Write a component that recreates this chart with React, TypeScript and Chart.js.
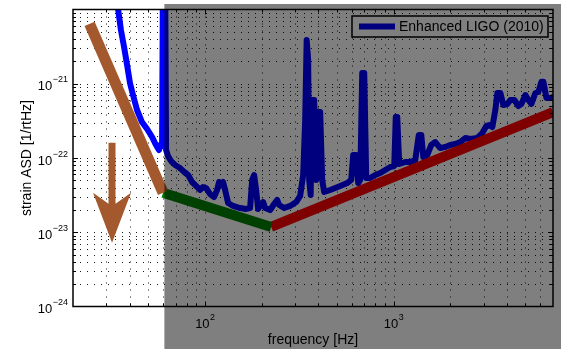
import React, { useEffect, useRef } from "react";
import { Chart, registerables } from "chart.js";

Chart.register(...registerables);

// ---- data ----
const freqHz = [
  30, 34.6, 35.9, 37.3, 38.7, 40.1, 41.6, 43.7, 46.4, 49.4, 52.5, 54.4, 55.8, 57.1, 58.6, 59.3, 60.0, 61.5,
  62.3, 63.8, 66.2, 69.5, 73.9, 77.6, 81.5, 85.5, 89.8, 94.3, 97.8, 101.5, 106.6, 111.9, 116.1, 118.9, 121.9,
  124.9, 128.0, 132.8, 141.1, 153.7, 165.4, 173.7, 178.0, 182.4, 186.9, 191.5, 198.7, 203.6, 208.6, 221.7,
  232.8, 241.5, 247.5, 263.1, 283.1, 304.7, 319.9, 331.9, 340.1, 346.3, 352.8, 357.1, 363.7, 370.4, 379.6,
  388.9, 398.6, 408.4, 418.5, 428.9, 461.5, 521.5, 568.0, 596.5, 611.2, 634.0, 649.7, 665.8, 682.3, 699.2,
  716.5, 752.4, 799.7, 849.9, 903.6, 960.5, 1008.6, 1027.3, 1046.2, 1072.0, 1153.6, 1226.2, 1303.4, 1360.5,
  1402.8, 1437.5, 1509.4, 1584.9, 1664.2, 1768.8, 1880.2, 1998.2, 2124.0, 2257.7, 2400.3, 2551.4, 2779.7,
  2955.2, 3103.0, 3218.8, 3338.9, 3463.4, 3549.0, 3681.3, 3819.4, 4010.5, 4160.0, 4368.1, 4586.6, 4758.7,
  4996.8, 5183.1, 5376.4, 5645.4, 5855.9, 6075.9, 6226.0, 6458.5, 6782.0, 7000,
];
const strainAsd = [
  9e-20, 1.05e-20, 5.3e-21, 3.13e-21, 1.79e-21, 1.02e-21, 7.05e-22, 4.43e-22, 3.05e-22, 2.46e-22, 1.92e-22,
  1.59e-22, 1.41e-22, 1.28e-22, 1.54e-22, 1.45e-22, 5e-20, 5e-20,
  1.28e-22, 1.06e-22, 9.1e-23, 8.05e-23, 7.33e-23, 6.48e-23, 5.9e-23, 4.75e-23, 4.2e-23, 3.71e-23, 4.07e-23,
  3.94e-23, 3.27e-23, 2.98e-23, 3.71e-23, 4.75e-23, 4.33e-23,
  4.75e-23, 3.71e-23, 2.48e-23, 2.26e-23, 2.12e-23, 2.06e-23, 2.12e-23, 5.06e-23, 5.9e-23, 3.71e-23, 2.06e-23,
  2.4e-23, 2.55e-23, 2.12e-23, 1.99e-23,
  2.4e-23, 2.72e-23, 2.33e-23, 2.12e-23, 2.26e-23, 2.55e-23, 3.08e-23, 5.9e-23, 3.25e-22, 3.88e-21, 2.09e-21,
  5.06e-23, 3.18e-23, 6.04e-22, 6.04e-22,
  5.06e-23, 4.16e-22, 4.16e-22, 5.06e-23, 3.48e-23, 3.71e-23, 4.2e-23, 4.6e-23, 5.06e-23, 1.1e-22, 1.1e-22,
  4.6e-23, 5.06e-23, 1.4e-21, 1.4e-21,
  5.38e-23, 5.38e-23, 5.9e-23, 6.28e-23, 6.89e-23, 7.56e-23, 7.8e-23, 3.56e-22, 3.56e-22, 8.3e-23, 8.83e-23,
  8.83e-23, 9.4e-23, 2.04e-22,
  2.04e-22, 1.03e-22, 1.1e-22, 1.5e-22, 1.64e-22, 1.36e-22, 1.41e-22, 1.5e-22, 1.54e-22, 1.64e-22, 1.86e-22,
  1.8e-22, 1.86e-22,
  2.17e-22, 2.7e-22, 2.78e-22, 2.61e-22, 4.43e-22, 7.5e-22, 7.5e-22, 5.17e-22, 5.34e-22, 6.04e-22, 6.04e-22,
  5.02e-22, 5.34e-22,
  7.05e-22, 6.04e-22, 5.34e-22, 7.5e-22, 7.74e-22, 1.06e-21, 1.06e-21, 6.43e-22, 6.43e-22, 6.63e-22,
];

const seismicFreq = [24.5, 60];
const seismicAsd = [6.4e-21, 3.4e-23];
const thermalFreq = [60, 224.5];
const thermalAsd = [3.4e-23, 1.18e-23];
const shotFreq = [224.5, 7000];
const shotAsd = [1.18e-23, 4.16e-22];

const arrowFreqHz = 32.2;
const arrowAsd = [1.6e-22, 7.2e-24];

const xRange = [20, 7000];
const yRange = [1e-24, 1e-20];
const xDecades = [10, 100, 1000];
const yDecades = [1e-24, 1e-23, 1e-22, 1e-21];
const xTickExponents = [2, 3];
const yTickExponents = [-24, -23, -22, -21];
const shadeFromHz = 61;

const legendLabel = "Enhanced LIGO (2010)";
const xTitle = "frequency [Hz]";
const yTitle = "strain ASD [1/rtHz]";

// ---- styles ----
const FONT = '"Liberation Sans", Arial, Helvetica, sans-serif';
const BLUE = "rgb(0,0,255)";
const BROWN = "rgb(163,88,45)";
const GREEN = "rgb(0,128,0)";
const RED = "rgb(255,0,0)";

const zip = (xs: number[], ys: number[]) => xs.map((x, i) => ({ x, y: ys[i] }));

const decorPlugin = {
  id: "ligoDecor",
  beforeDatasetsDraw(chart: any) {
    const { ctx, chartArea: a, scales } = chart;
    const xs = scales.x;
    const ys = scales.y;
    ctx.save();
    ctx.strokeStyle = "rgba(0,0,0,0.9)";
    ctx.lineWidth = 1;
    ctx.setLineDash([1, 6]);
    for (const d of xDecades) {
      for (let k = 1; k <= 9; k++) {
        const v = k * d;
        if (v <= xRange[0] || v >= xRange[1]) continue;
        const px = Math.round(xs.getPixelForValue(v)) + 0.5;
        ctx.beginPath();
        ctx.moveTo(px, a.top);
        ctx.lineTo(px, a.bottom);
        ctx.stroke();
      }
    }
    for (const d of yDecades) {
      for (let k = 1; k <= 9; k++) {
        const v = k * d;
        if (v <= yRange[0] * 1.0001 || v >= yRange[1] * 0.9999) continue;
        const py = Math.round(ys.getPixelForValue(v)) + 0.5;
        ctx.beginPath();
        ctx.moveTo(a.left, py);
        ctx.lineTo(a.right, py);
        ctx.stroke();
      }
    }
    ctx.restore();
  },
  afterDatasetsDraw(chart: any) {
    const { ctx, chartArea: a, scales } = chart;
    const xs = scales.x;
    const ys = scales.y;
    ctx.save();

    // arrow
    const cx = xs.getPixelForValue(arrowFreqHz);
    const yTop = ys.getPixelForValue(arrowAsd[0]);
    const yTip = ys.getPixelForValue(arrowAsd[1]);
    ctx.fillStyle = BROWN;
    ctx.beginPath();
    ctx.moveTo(cx - 3.5, yTop);
    ctx.lineTo(cx + 3.5, yTop);
    ctx.lineTo(cx + 3.5, yTip - 39);
    ctx.lineTo(cx + 19, yTip - 50);
    ctx.lineTo(cx, yTip);
    ctx.lineTo(cx - 19, yTip - 50);
    ctx.lineTo(cx - 3.5, yTip - 39);
    ctx.closePath();
    ctx.fill();

    // ticks (inside, all four sides)
    ctx.strokeStyle = "#000";
    ctx.lineWidth = 1;
    for (const d of xDecades) {
      for (let k = 1; k <= 9; k++) {
        const v = k * d;
        if (v <= xRange[0] || v >= xRange[1]) continue;
        const len = k === 1 ? 5 : 3;
        const px = Math.round(xs.getPixelForValue(v)) + 0.5;
        ctx.beginPath();
        ctx.moveTo(px, a.bottom);
        ctx.lineTo(px, a.bottom - len);
        ctx.moveTo(px, a.top);
        ctx.lineTo(px, a.top + len);
        ctx.stroke();
      }
    }
    for (const d of yDecades) {
      for (let k = 1; k <= 9; k++) {
        const v = k * d;
        if (v <= yRange[0] * 1.0001 || v >= yRange[1] * 0.9999) continue;
        const len = k === 1 ? 5 : 3;
        const py = Math.round(ys.getPixelForValue(v)) + 0.5;
        ctx.beginPath();
        ctx.moveTo(a.left, py);
        ctx.lineTo(a.left + len, py);
        ctx.moveTo(a.right, py);
        ctx.lineTo(a.right - len, py);
        ctx.stroke();
      }
    }

    // axes box
    ctx.lineWidth = 1.5;
    ctx.strokeRect(a.left, a.top, a.right - a.left, a.bottom - a.top);

    // tick labels
    ctx.fillStyle = "#000";
    ctx.textBaseline = "alphabetic";
    const baseFont = `13px ${FONT}`;
    const expFont = `9px ${FONT}`;
    for (const e of xTickExponents) {
      const px = xs.getPixelForValue(10 ** e);
      ctx.font = baseFont;
      const wb = ctx.measureText("10").width;
      ctx.font = expFont;
      const es = String(e);
      const we = ctx.measureText(es).width;
      const start = px - (wb + we) / 2;
      ctx.textAlign = "left";
      ctx.font = baseFont;
      ctx.fillText("10", start, a.bottom + 21.5);
      ctx.font = expFont;
      ctx.fillText(es, start + wb + 0.5, a.bottom + 13.5);
    }
    for (const e of yTickExponents) {
      const py = ys.getPixelForValue(10 ** e);
      const es = "\u2212" + Math.abs(e);
      ctx.font = expFont;
      const we = ctx.measureText(es).width;
      const right = a.left - 5;
      ctx.textAlign = "right";
      ctx.fillText(es, right, py - 1.5);
      ctx.font = baseFont;
      ctx.fillText("10", right - we - 0.5, py + 6.5);
    }

    // axis titles
    ctx.font = `14px ${FONT}`;
    ctx.textAlign = "center";
    ctx.fillText(xTitle, (a.left + a.right) / 2, a.bottom + 37.5);
    ctx.save();
    ctx.translate(30.5, (a.top + a.bottom) / 2);
    ctx.rotate(-Math.PI / 2);
    ctx.fillText(yTitle, 0, 0);
    ctx.restore();

    // legend
    const bx = a.right - 201;
    const by = a.top + 6.5;
    const bw = 196;
    const bh = 21;
    ctx.fillStyle = "#fff";
    ctx.fillRect(bx, by, bw, bh);
    ctx.strokeStyle = "#000";
    ctx.lineWidth = 1.5;
    ctx.strokeRect(bx, by, bw, bh);
    ctx.strokeStyle = BLUE;
    ctx.lineWidth = 6;
    ctx.beginPath();
    ctx.moveTo(bx + 7, by + bh / 2);
    ctx.lineTo(bx + 43, by + bh / 2);
    ctx.stroke();
    ctx.fillStyle = "#000";
    ctx.font = `14px ${FONT}`;
    ctx.textAlign = "left";
    ctx.textBaseline = "middle";
    ctx.fillText(legendLabel, bx + 47, by + bh / 2 + 0.5);

    ctx.restore();
  },
  afterDraw(chart: any) {
    const { ctx, scales } = chart;
    const x0 = scales.x.getPixelForValue(shadeFromHz);
    ctx.save();
    ctx.fillStyle = "rgba(0,0,0,0.5)";
    ctx.fillRect(x0, 4, 561 - x0, 345);
    ctx.restore();
  },
};

export default function App() {
  const ref = useRef<HTMLCanvasElement | null>(null);
  useEffect(() => {
    if (!ref.current) return;
    const lineDs = (label: string, data: any[], color: string, width: number, cap: string) => ({
      label,
      data,
      showLine: true,
      borderColor: color,
      backgroundColor: color,
      borderWidth: width,
      pointRadius: 0,
      fill: false,
      tension: 0,
      borderCapStyle: cap,
      borderJoinStyle: "round",
      clip: 0,
    });
    const chart = new Chart(ref.current, {
      type: "scatter",
      data: {
        datasets: [
          lineDs("seismic", zip(seismicFreq, seismicAsd), BROWN, 11, "butt"),
          lineDs("thermal", zip(thermalFreq, thermalAsd), GREEN, 10, "butt"),
          lineDs("shot", zip(shotFreq, shotAsd), RED, 10, "butt"),
          lineDs(legendLabel, zip(freqHz, strainAsd), BLUE, 6, "round"),
        ] as any,
      },
      options: {
        animation: false,
        responsive: false,
        devicePixelRatio: 1,
        events: [],
        layout: { padding: { left: 73, right: 10, top: 9.5, bottom: 44.5 } },
        plugins: { legend: { display: false }, tooltip: { enabled: false } },
        scales: {
          x: { type: "logarithmic", min: xRange[0], max: xRange[1], display: false },
          y: { type: "logarithmic", min: yRange[0], max: yRange[1], display: false },
        },
      } as any,
      plugins: [decorPlugin as any],
    });
    return () => chart.destroy();
  }, []);
  return (
    <div style={{ position: "fixed", left: 0, top: 0, width: 563, height: 351, background: "#fff" }}>
      <canvas ref={ref} width={563} height={351} style={{ display: "block" }} />
    </div>
  );
}
